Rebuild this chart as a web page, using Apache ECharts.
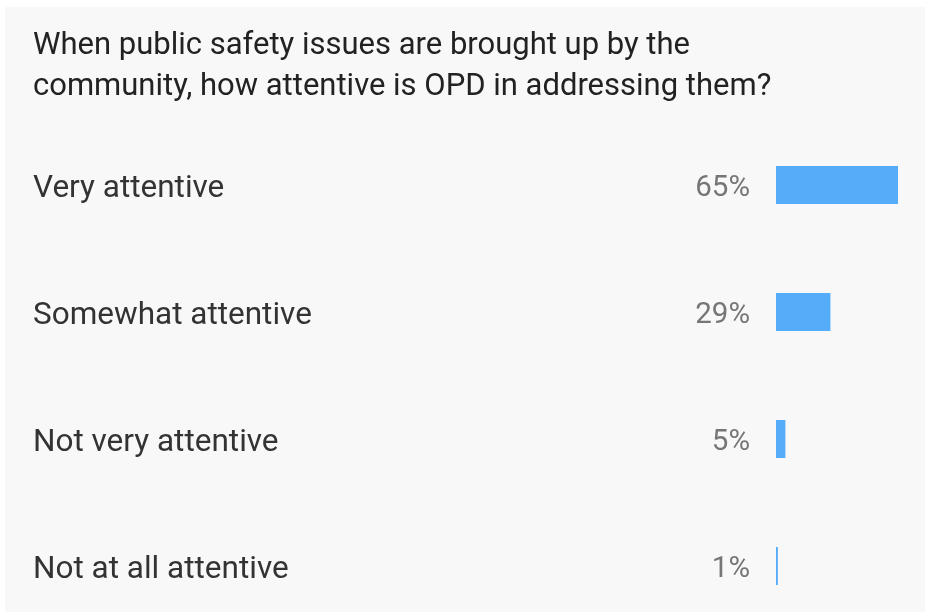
<!DOCTYPE html>
<html>
<head>
<meta charset="utf-8">
<script src="https://cdn.jsdelivr.net/npm/echarts@6/dist/echarts.min.js"></script>
<style>html,body{margin:0;padding:0;background:#fff}#c{width:928px;height:615px}</style>
</head>
<body>
<div id="c"></div>
<script>
const titleText = 'When public safety issues are brought up by the\ncommunity, how attentive is OPD in addressing them?';
const categories = ['Very attentive', 'Somewhat attentive', 'Not very attentive', 'Not at all attentive'];
const values = [65, 29, 5, 1];

const chart = echarts.init(document.getElementById('c'));
chart.setOption({
  backgroundColor: '#ffffff',
  animation: false,
  graphic: [{
    type: 'rect', z: -10, silent: true,
    shape: { x: 5, y: 7, width: 920, height: 605 },
    style: { fill: '#f8f8f8' }
  }],
  title: {
    text: titleText,
    left: 28, top: 21,
    textStyle: { fontFamily: 'Roboto', fontSize: 31, fontWeight: 'normal', color: '#222222', lineHeight: 41 }
  },
  grid: { left: 776, top: 121.5, width: 146.4, height: 508, containLabel: false, outerBoundsMode: 'none' },
  xAxis: { type: 'value', min: 0, max: 78, show: false },
  yAxis: {
    type: 'category', data: categories, inverse: true,
    axisLine: { show: false }, axisTick: { show: false },
    axisLabel: {
      align: 'left', margin: 743,
      formatter: v => '{a|' + v + '}',
      rich: { a: { fontFamily: 'Roboto', fontSize: 31.5, color: '#333333', padding: [8, 0, 0, 0] } }
    }
  },
  series: [{
    type: 'bar', data: values, barWidth: 38,
    itemStyle: { color: '#55adf9' },
    label: {
      show: true, position: 'left', distance: 26, offset: [0, 4],
      formatter: p => p.value + '%',
      fontFamily: 'Roboto', fontSize: 29.5, color: '#767676'
    }
  }]
});
</script>
</body>
</html>
